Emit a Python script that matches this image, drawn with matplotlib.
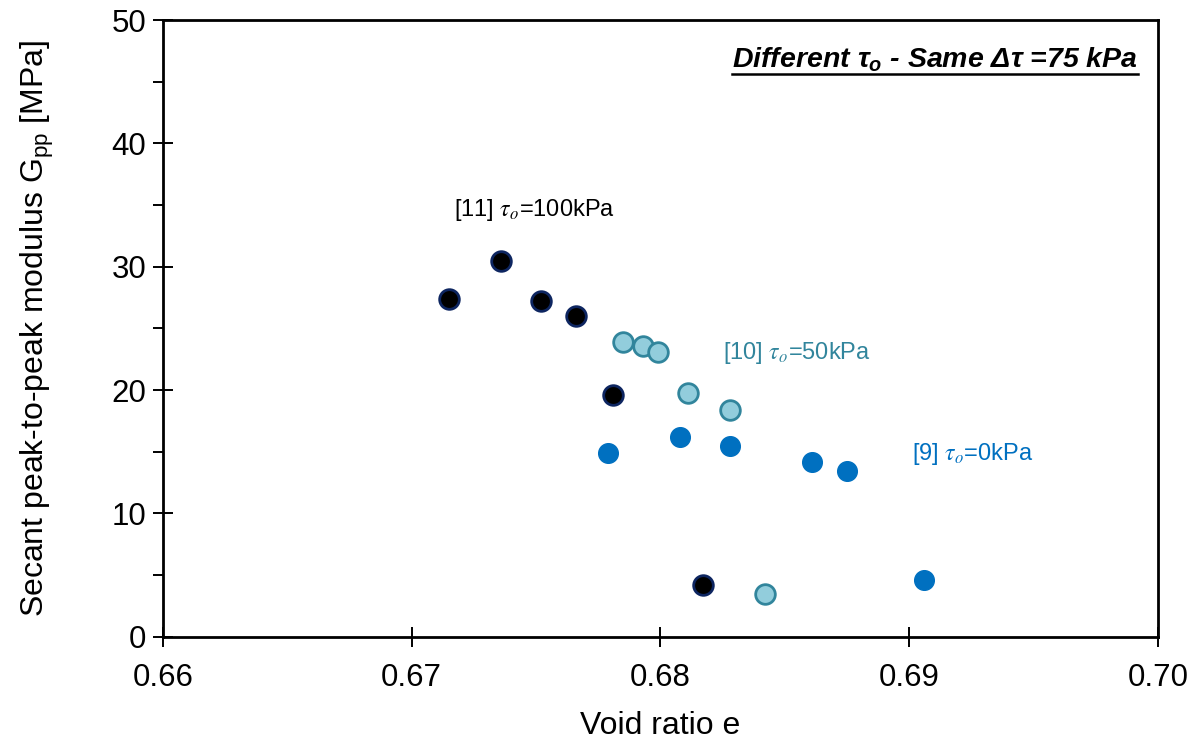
import numpy as np
import matplotlib.pyplot as plt
from matplotlib.lines import Line2D
from matplotlib.ticker import MultipleLocator

plt.rcParams['font.family'] = ['Liberation Sans', 'DejaVu Sans']
plt.rcParams['mathtext.fontset'] = 'custom'
plt.rcParams['mathtext.rm'] = 'Liberation Sans:bold:italic'
plt.rcParams['mathtext.it'] = 'Liberation Sans:bold:italic'
plt.rcParams['mathtext.bf'] = 'Liberation Sans:bold:italic'

# data: void ratio e vs secant modulus Gpp [MPa]
e_100 = [0.6715, 0.6736, 0.6752, 0.6766, 0.6781, 0.6817]
g_100 = [27.4, 30.5, 27.2, 26.0, 19.6, 4.2]

e_50 = [0.6785, 0.6793, 0.6799, 0.6811, 0.6828, 0.6842]
g_50 = [23.9, 23.6, 23.1, 19.8, 18.4, 3.5]

e_0 = [0.6779, 0.6808, 0.6828, 0.6861, 0.6875, 0.6906]
g_0 = [14.9, 16.2, 15.5, 14.2, 13.4, 4.6]

fig = plt.figure(figsize=(11.9, 7.46), dpi=100)
ax = fig.add_axes([0.137, 0.1465, 0.836, 0.8265])

ms = 200
ax.scatter(e_100, g_100, s=ms, c='black', edgecolors='#0d2560', linewidths=2, zorder=3)
ax.scatter(e_50, g_50, s=ms, c='#92cddc', edgecolors='#31859c', linewidths=2, zorder=3)
ax.scatter(e_0, g_0, s=ms, c='#0070c0', edgecolors='#0070c0', linewidths=1, zorder=3)

ax.set_xlim(0.66, 0.70)
ax.set_ylim(0, 50)
ax.set_xticks([0.66, 0.67, 0.68, 0.69, 0.70])
ax.set_xticklabels(['0.66', '0.67', '0.68', '0.69', '0.70'])
ax.yaxis.set_major_locator(MultipleLocator(10))
ax.yaxis.set_minor_locator(MultipleLocator(5))
ax.tick_params(which='major', direction='inout', length=14, width=1.4, labelsize=22.5, pad=5)
ax.tick_params(axis='y', which='minor', direction='out', length=7, width=1.4)
ax.tick_params(axis='x', which='major', pad=12)
for sp in ax.spines.values():
    sp.set_linewidth(2)

ax.set_xlabel('Void ratio e', fontsize=23, labelpad=13)
ax.set_ylabel('Secant peak-to-peak modulus G$_{\\mathregular{pp}}$ [MPa]', fontsize=23, labelpad=40)

ax.text(0.6717, 34.6, r'[11] $\tau_o$=100kPa', fontsize=17, color='black',
        va='center', math_fontfamily='stix')
ax.text(0.6825, 23.0, r'[10] $\tau_o$=50kPa', fontsize=17, color='#31859c',
        va='center', math_fontfamily='stix')
ax.text(0.6901, 14.8, r'[9] $\tau_o$=0kPa', fontsize=17, color='#0070c0',
        va='center', math_fontfamily='stix')

title = ax.text(0.98, 0.935, r'Different $\tau_o$ - Same $\Delta\tau$ =75 kPa',
                transform=ax.transAxes, ha='right', va='center', fontsize=20.5,
                fontweight='bold', fontstyle='italic', math_fontfamily='custom')

# underline the title
fig.canvas.draw()
bb = title.get_window_extent().transformed(fig.transFigure.inverted())
fig.add_artist(Line2D([bb.x0, bb.x1], [bb.y0 + 0.001, bb.y0 + 0.001],
                      transform=fig.transFigure, color='black', linewidth=1.8))

fig.savefig('out.png', dpi=100)
